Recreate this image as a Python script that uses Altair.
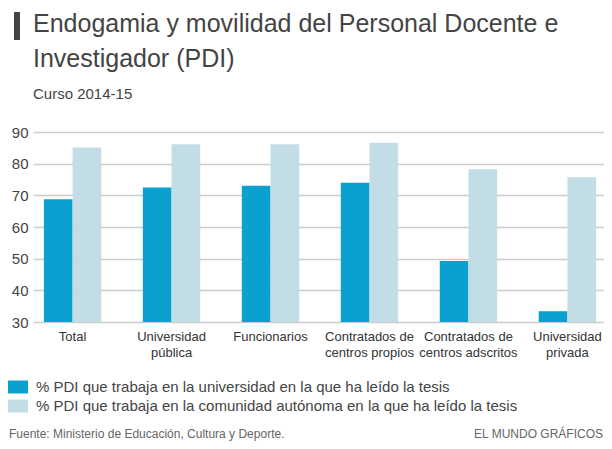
import json
import altair as alt
import pandas as pd

categories = ["Total", "Universidad pública", "Funcionarios",
              "Contratados de centros propios", "Contratados de centros adscritos",
              "Universidad privada"]
label_lines = {
    "Universidad pública": ["Universidad", "pública"],
    "Contratados de centros propios": ["Contratados de", "centros propios"],
    "Contratados de centros adscritos": ["Contratados de", "centros adscritos"],
    "Universidad privada": ["Universidad", "privada"],
}
series_names = ["% PDI que trabaja en la universidad en la que ha leído la tesis",
                "% PDI que trabaja en la comunidad autónoma en la que ha leído la tesis"]
univ = [68.8, 72.5, 73.0, 74.0, 49.3, 33.4]
ccaa = [85.1, 86.1, 86.1, 86.6, 78.2, 75.7]
y_ticks = [30, 40, 50, 60, 70, 80, 90]
colors = ["#0aa1cf", "#c3dde7"]
title_lines = ["Endogamia y movilidad del Personal Docente e", "Investigador (PDI)"]
subtitle = "Curso 2014-15"
source = "Fuente: Ministerio de Educación, Cultura y Deporte."
credit = "EL MUNDO GRÁFICOS"

FONT = "Liberation Sans"

rows = []
for c, a, b in zip(categories, univ, ccaa):
    rows.append({"cat": c, "serie": series_names[0], "val": a})
    rows.append({"cat": c, "serie": series_names[1], "val": b})
df = pd.DataFrame(rows)

parts = [f"datum.label == {json.dumps(k, ensure_ascii=False)} ? {json.dumps(v, ensure_ascii=False)}"
         for k, v in label_lines.items()]
label_expr = " : ".join(parts) + " : datum.label"

bars = alt.Chart(df).mark_bar().encode(
    x=alt.X("cat:N", sort=categories, title=None,
            scale=alt.Scale(paddingInner=0.42, paddingOuter=0.11, range=[0, 574]),
            axis=alt.Axis(labelAngle=0, domain=False, ticks=False, labelFontSize=13,
                          labelColor="#333333", labelPadding=8, labelLineHeight=16,
                          labelExpr=label_expr, labelFont=FONT)),
    xOffset=alt.XOffset("serie:N", sort=series_names,
                        scale=alt.Scale(paddingInner=0, paddingOuter=0)),
    y=alt.Y("val:Q", title=None,
            scale=alt.Scale(domain=[30, 90], zero=False, nice=False),
            axis=alt.Axis(values=y_ticks, domain=False, ticks=False, grid=True,
                          gridColor="#cccccc", gridWidth=1.5, labelFontSize=15,
                          labelColor="#444444", labelPadding=5, labelFont=FONT)),
    y2=alt.datum(30),
    color=alt.Color("serie:N", sort=series_names,
                    scale=alt.Scale(domain=series_names, range=colors),
                    legend=alt.Legend(orient="none", legendX=-25, legendY=245, title=None,
                                      symbolType="M-1,-0.65L1,-0.65L1,0.65L-1,0.65Z",
                                      symbolSize=400, symbolStrokeWidth=0, symbolOpacity=1,
                                      labelFontSize=15, labelColor="#444444", labelFont=FONT,
                                      labelOffset=8, rowPadding=1, labelLimit=600)),
)

one = pd.DataFrame({"a": [0]})
titlebar = alt.Chart(one).mark_rect(color="#444444").encode(
    x=alt.value(-19), x2=alt.value(-13), y=alt.value(-120), y2=alt.value(-92))

def txt(s, x, y, size, color, align="left"):
    return alt.Chart(pd.DataFrame({"t": [s]})).mark_text(
        align=align, baseline="alphabetic", fontSize=size, color=color, font=FONT
    ).encode(text="t:N", x=alt.value(x), y=alt.value(y))

t1 = txt(title_lines[0], 0, -100, 25, "#444444")
t2 = txt(title_lines[1], 0, -65, 25, "#444444")
sub = txt(subtitle, 0, -33, 15, "#444444")
src = txt(source, -24, 306, 12, "#666666")
cred = txt(credit, 570, 306, 12, "#666666", align="right")

chart = alt.layer(bars, titlebar, t1, t2, sub, src, cred).properties(
    width=571, height=190,
    autosize=alt.AutoSizeParams(type="none"),
    padding={"left": 25, "top": 124, "right": 0, "bottom": 119},
).configure_view(stroke=None)

chart.save("out.html", embed_options={"renderer": "svg", "actions": False})
